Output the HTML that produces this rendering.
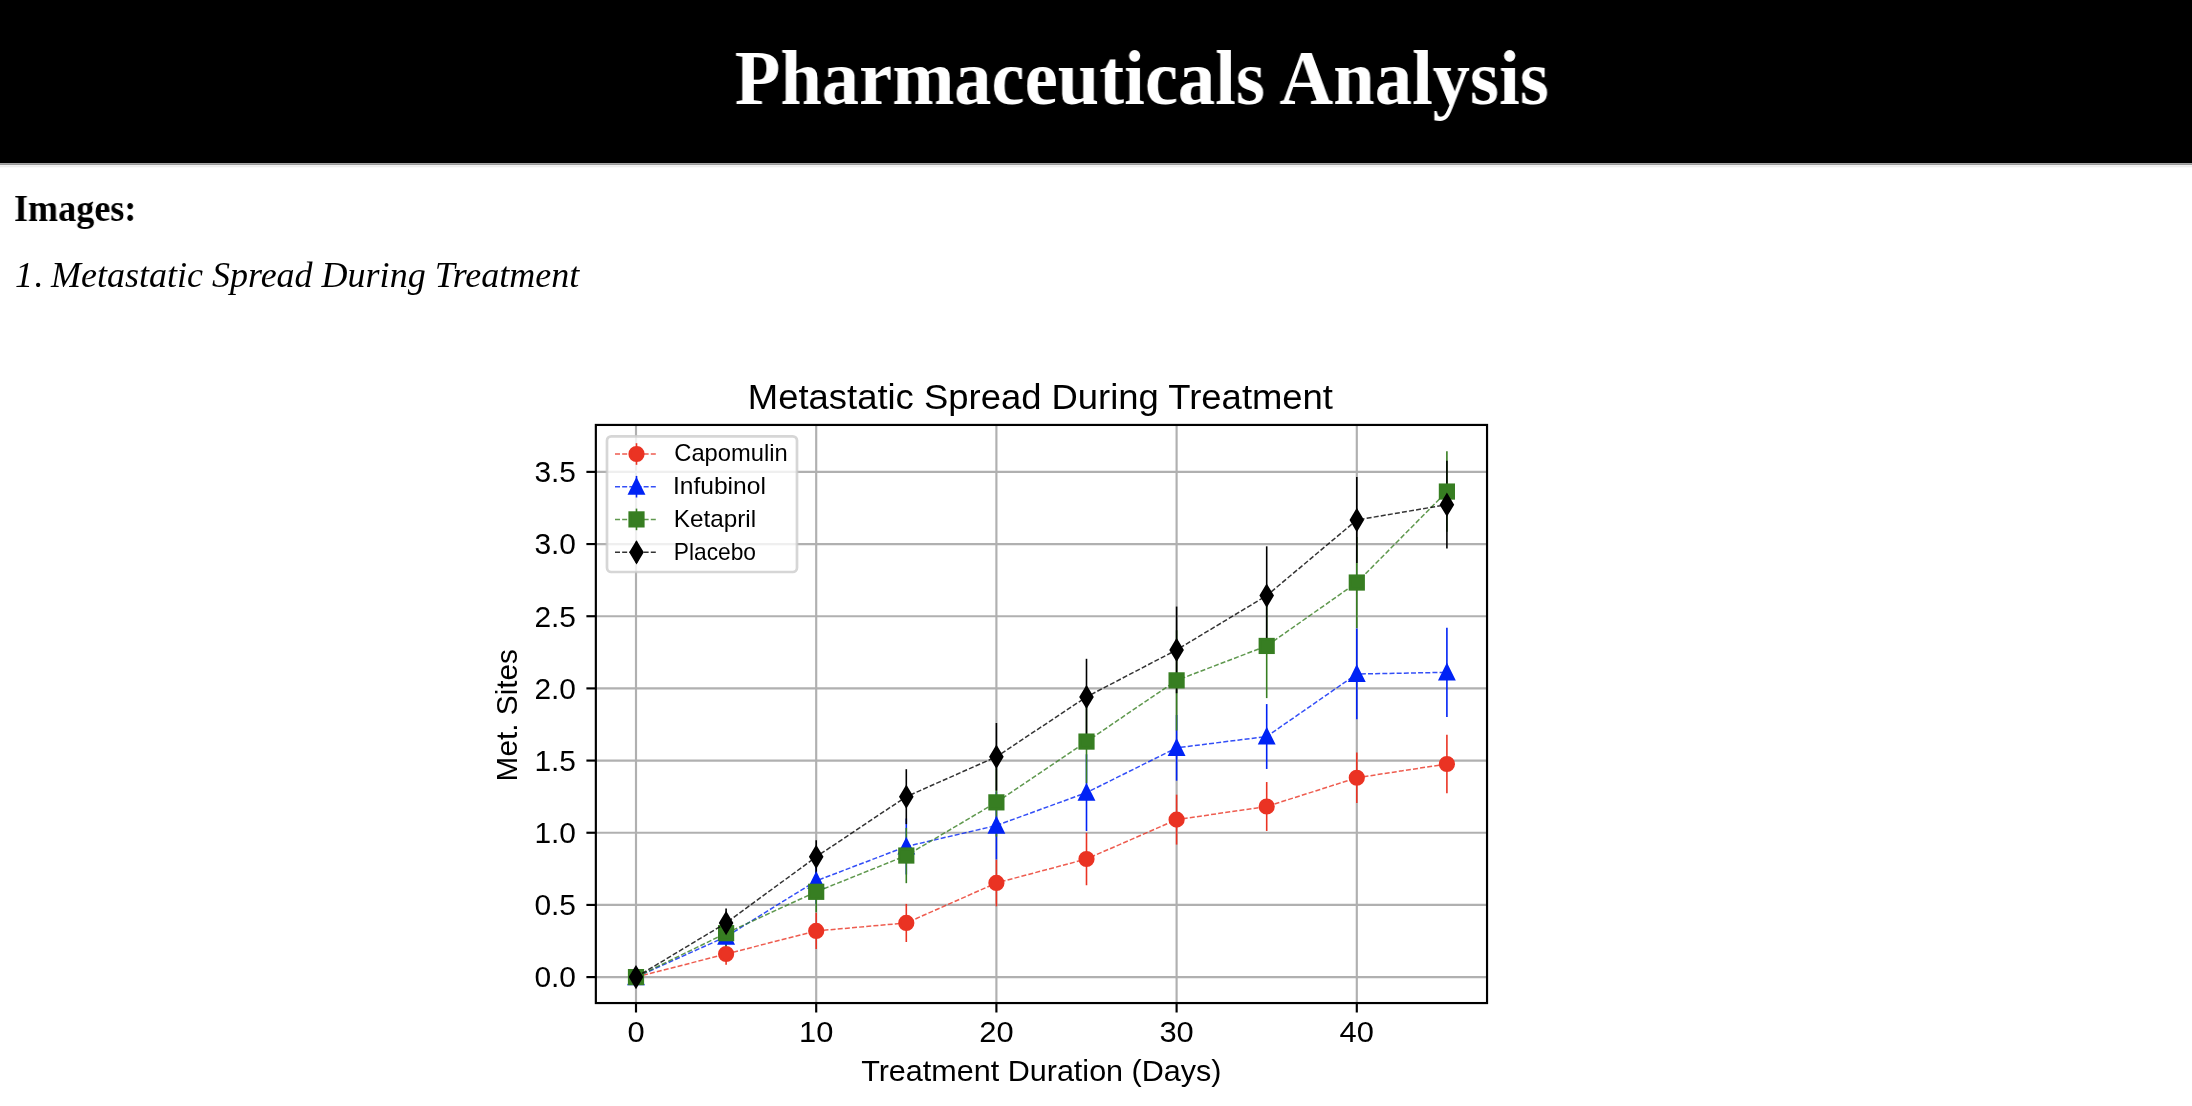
<!DOCTYPE html>
<html lang="en">
<head>
<meta charset="utf-8">
<title>Pharmaceuticals Analysis</title>
<style>
html, body { margin: 0; padding: 0; background: #fff; }
body { width: 2192px; height: 1106px; position: relative; overflow: hidden;
  font-family: "Liberation Serif", serif; color: #000; }
#header { position: absolute; left: 0; top: 0; width: 2192px; height: 168px;
  background: linear-gradient(to bottom, #000 0, #000 163px, #a6a6a6 163px, #a6a6a6 164px,
    #999 164px, #999 165px, #f2f2f2 165px, #f2f2f2 166px, #ededed 166px, #ededed 167px, #fafafa 167px, #fafafa 168px); }
#header h1 { position: absolute; left: 0; top: 0; width: 2192px; margin: 0; text-align: center;
  font-family: "Liberation Serif", serif; font-weight: bold; font-size: 78px; line-height: 1;
  color: #fff; white-space: nowrap; }
#header h1 span { display: inline-block; transform: scaleX(0.956); transform-origin: 50% 50%; position: relative; top: 39.4px; left: 45.5px; }
h3 { position: absolute; left: 13.8px; top: 190.2px; margin: 0; font-family: "Liberation Serif", serif;
  font-weight: bold; font-size: 37.44px; line-height: 1; white-space: nowrap;
  transform: scaleX(0.965); transform-origin: 0 0; }
#cap { position: absolute; left: 14.7px; top: 257px; margin: 0; font-family: "Liberation Serif", serif;
  font-style: italic; font-size: 36px; line-height: 1; white-space: nowrap;
  transform: scaleX(1.0); transform-origin: 0 0; }
#cap .dot { position: relative; left: 1.6px; }
#chart { position: absolute; left: 0; top: 0; will-change: transform; }
#header h1 span, h3, #cap { will-change: transform; }
</style>
</head>
<body>
<div id="header"><h1><span>Pharmaceuticals Analysis</span></h1></div>
<h3>Images:</h3>
<p id="cap"><i>1<span class="dot">.</span> Metastatic Spread During Treatment</i></p>
<svg id="chart" width="2192" height="1106" viewBox="0 0 2192 1106">
<defs><clipPath id="axclip"><rect x="595.85" y="424.94" width="891.19" height="578.11"/></clipPath></defs>
<g stroke="#b0b0b0" stroke-width="2.16" fill="none">
<line x1="636" y1="424.94" x2="636" y2="1003.05"/>
<line x1="816.2" y1="424.94" x2="816.2" y2="1003.05"/>
<line x1="996.4" y1="424.94" x2="996.4" y2="1003.05"/>
<line x1="1176.6" y1="424.94" x2="1176.6" y2="1003.05"/>
<line x1="1356.8" y1="424.94" x2="1356.8" y2="1003.05"/>
<line x1="595.85" y1="977.1" x2="1487.04" y2="977.1"/>
<line x1="595.85" y1="904.93" x2="1487.04" y2="904.93"/>
<line x1="595.85" y1="832.75" x2="1487.04" y2="832.75"/>
<line x1="595.85" y1="760.58" x2="1487.04" y2="760.58"/>
<line x1="595.85" y1="688.4" x2="1487.04" y2="688.4"/>
<line x1="595.85" y1="616.23" x2="1487.04" y2="616.23"/>
<line x1="595.85" y1="544.05" x2="1487.04" y2="544.05"/>
<line x1="595.85" y1="471.88" x2="1487.04" y2="471.88"/>
</g>
<g clip-path="url(#axclip)">
<g stroke="#ea3323" stroke-width="1.6" fill="none">
<line x1="726.1" y1="964.81" x2="726.1" y2="943.2"/>
<line x1="816.2" y1="949.01" x2="816.2" y2="912.8"/>
<line x1="906.3" y1="942.03" x2="906.3" y2="903.91"/>
<line x1="996.4" y1="906.29" x2="996.4" y2="859.63"/>
<line x1="1086.5" y1="885.24" x2="1086.5" y2="832.75"/>
<line x1="1176.6" y1="844.59" x2="1176.6" y2="794.66"/>
<line x1="1266.7" y1="830.97" x2="1266.7" y2="782.04"/>
<line x1="1356.8" y1="803.11" x2="1356.8" y2="752.41"/>
<line x1="1446.9" y1="793.26" x2="1446.9" y2="734.77"/>
</g>
<g stroke="#0023f5" stroke-width="1.6" fill="none">
<line x1="726.1" y1="949.91" x2="726.1" y2="923.45"/>
<line x1="816.2" y1="903.87" x2="816.2" y2="857.86"/>
<line x1="906.3" y1="874.5" x2="906.3" y2="818.49"/>
<line x1="996.4" y1="859.43" x2="996.4" y2="791.64"/>
<line x1="1086.5" y1="831.01" x2="1086.5" y2="754.29"/>
<line x1="1176.6" y1="780.72" x2="1176.6" y2="714.95"/>
<line x1="1266.7" y1="768.96" x2="1266.7" y2="704.08"/>
<line x1="1356.8" y1="719.36" x2="1356.8" y2="628.57"/>
<line x1="1446.9" y1="717.01" x2="1446.9" y2="627.71"/>
</g>
<g stroke="#377e22" stroke-width="1.6" fill="none">
<line x1="726.1" y1="947.33" x2="726.1" y2="919.01"/>
<line x1="816.2" y1="912.3" x2="816.2" y2="871.3"/>
<line x1="906.3" y1="883.17" x2="906.3" y2="827.92"/>
<line x1="996.4" y1="836.53" x2="996.4" y2="768.2"/>
<line x1="1086.5" y1="783.19" x2="1086.5" y2="699.97"/>
<line x1="1176.6" y1="730.54" x2="1176.6" y2="630.22"/>
<line x1="1266.7" y1="698.11" x2="1266.7" y2="593.77"/>
<line x1="1356.8" y1="628.12" x2="1356.8" y2="536.97"/>
<line x1="1446.9" y1="531.79" x2="1446.9" y2="451.33"/>
</g>
<g stroke="#000000" stroke-width="1.6" fill="none">
<line x1="726.1" y1="937.54" x2="726.1" y2="908.4"/>
<line x1="816.2" y1="873.45" x2="816.2" y2="840.17"/>
<line x1="906.3" y1="824.12" x2="906.3" y2="769.2"/>
<line x1="996.4" y1="790.56" x2="996.4" y2="722.99"/>
<line x1="1086.5" y1="734.98" x2="1086.5" y2="658.8"/>
<line x1="1176.6" y1="693.25" x2="1176.6" y2="606.56"/>
<line x1="1266.7" y1="644.89" x2="1266.7" y2="546.32"/>
<line x1="1356.8" y1="562.91" x2="1356.8" y2="477.08"/>
<line x1="1446.9" y1="548.6" x2="1446.9" y2="460.76"/>
</g>
<polyline points="636,977.1 726.1,954 816.2,930.91 906.3,922.97 996.4,882.96 1086.5,859 1176.6,819.63 1266.7,806.5 1356.8,777.76 1446.9,764.01" fill="none" stroke="#ea3323" stroke-width="1.5" stroke-opacity="0.8" stroke-dasharray="5 2.16"/>
<circle cx="636" cy="977.1" r="6.75" fill="#ea3323" stroke="#ea3323" stroke-width="2.7" stroke-linejoin="miter" stroke-miterlimit="10"/>
<circle cx="726.1" cy="954" r="6.75" fill="#ea3323" stroke="#ea3323" stroke-width="2.7" stroke-linejoin="miter" stroke-miterlimit="10"/>
<circle cx="816.2" cy="930.91" r="6.75" fill="#ea3323" stroke="#ea3323" stroke-width="2.7" stroke-linejoin="miter" stroke-miterlimit="10"/>
<circle cx="906.3" cy="922.97" r="6.75" fill="#ea3323" stroke="#ea3323" stroke-width="2.7" stroke-linejoin="miter" stroke-miterlimit="10"/>
<circle cx="996.4" cy="882.96" r="6.75" fill="#ea3323" stroke="#ea3323" stroke-width="2.7" stroke-linejoin="miter" stroke-miterlimit="10"/>
<circle cx="1086.5" cy="859" r="6.75" fill="#ea3323" stroke="#ea3323" stroke-width="2.7" stroke-linejoin="miter" stroke-miterlimit="10"/>
<circle cx="1176.6" cy="819.63" r="6.75" fill="#ea3323" stroke="#ea3323" stroke-width="2.7" stroke-linejoin="miter" stroke-miterlimit="10"/>
<circle cx="1266.7" cy="806.5" r="6.75" fill="#ea3323" stroke="#ea3323" stroke-width="2.7" stroke-linejoin="miter" stroke-miterlimit="10"/>
<circle cx="1356.8" cy="777.76" r="6.75" fill="#ea3323" stroke="#ea3323" stroke-width="2.7" stroke-linejoin="miter" stroke-miterlimit="10"/>
<circle cx="1446.9" cy="764.01" r="6.75" fill="#ea3323" stroke="#ea3323" stroke-width="2.7" stroke-linejoin="miter" stroke-miterlimit="10"/>
<polyline points="636,977.1 726.1,936.68 816.2,880.87 906.3,846.5 996.4,825.53 1086.5,792.65 1176.6,747.84 1266.7,736.52 1356.8,673.97 1446.9,672.36" fill="none" stroke="#0023f5" stroke-width="1.5" stroke-opacity="0.8" stroke-dasharray="5 2.16"/>
<path d="M636 970.35L629.25 983.85L642.75 983.85Z" fill="#0023f5" stroke="#0023f5" stroke-width="2.7" stroke-linejoin="miter" stroke-miterlimit="10"/>
<path d="M726.1 929.93L719.35 943.43L732.85 943.43Z" fill="#0023f5" stroke="#0023f5" stroke-width="2.7" stroke-linejoin="miter" stroke-miterlimit="10"/>
<path d="M816.2 874.12L809.45 887.62L822.95 887.62Z" fill="#0023f5" stroke="#0023f5" stroke-width="2.7" stroke-linejoin="miter" stroke-miterlimit="10"/>
<path d="M906.3 839.75L899.55 853.25L913.05 853.25Z" fill="#0023f5" stroke="#0023f5" stroke-width="2.7" stroke-linejoin="miter" stroke-miterlimit="10"/>
<path d="M996.4 818.78L989.65 832.28L1003.15 832.28Z" fill="#0023f5" stroke="#0023f5" stroke-width="2.7" stroke-linejoin="miter" stroke-miterlimit="10"/>
<path d="M1086.5 785.9L1079.75 799.4L1093.25 799.4Z" fill="#0023f5" stroke="#0023f5" stroke-width="2.7" stroke-linejoin="miter" stroke-miterlimit="10"/>
<path d="M1176.6 741.09L1169.85 754.59L1183.35 754.59Z" fill="#0023f5" stroke="#0023f5" stroke-width="2.7" stroke-linejoin="miter" stroke-miterlimit="10"/>
<path d="M1266.7 729.77L1259.95 743.27L1273.45 743.27Z" fill="#0023f5" stroke="#0023f5" stroke-width="2.7" stroke-linejoin="miter" stroke-miterlimit="10"/>
<path d="M1356.8 667.22L1350.05 680.72L1363.55 680.72Z" fill="#0023f5" stroke="#0023f5" stroke-width="2.7" stroke-linejoin="miter" stroke-miterlimit="10"/>
<path d="M1446.9 665.61L1440.15 679.11L1453.65 679.11Z" fill="#0023f5" stroke="#0023f5" stroke-width="2.7" stroke-linejoin="miter" stroke-miterlimit="10"/>
<polyline points="636,977.1 726.1,933.17 816.2,891.8 906.3,855.54 996.4,802.36 1086.5,741.58 1176.6,680.38 1266.7,645.94 1356.8,582.54 1446.9,491.56" fill="none" stroke="#377e22" stroke-width="1.5" stroke-opacity="0.8" stroke-dasharray="5 2.16"/>
<rect x="629.25" y="970.35" width="13.5" height="13.5" fill="#377e22" stroke="#377e22" stroke-width="2.7" stroke-linejoin="miter" stroke-miterlimit="10"/>
<rect x="719.35" y="926.42" width="13.5" height="13.5" fill="#377e22" stroke="#377e22" stroke-width="2.7" stroke-linejoin="miter" stroke-miterlimit="10"/>
<rect x="809.45" y="885.05" width="13.5" height="13.5" fill="#377e22" stroke="#377e22" stroke-width="2.7" stroke-linejoin="miter" stroke-miterlimit="10"/>
<rect x="899.55" y="848.79" width="13.5" height="13.5" fill="#377e22" stroke="#377e22" stroke-width="2.7" stroke-linejoin="miter" stroke-miterlimit="10"/>
<rect x="989.65" y="795.61" width="13.5" height="13.5" fill="#377e22" stroke="#377e22" stroke-width="2.7" stroke-linejoin="miter" stroke-miterlimit="10"/>
<rect x="1079.75" y="734.83" width="13.5" height="13.5" fill="#377e22" stroke="#377e22" stroke-width="2.7" stroke-linejoin="miter" stroke-miterlimit="10"/>
<rect x="1169.85" y="673.63" width="13.5" height="13.5" fill="#377e22" stroke="#377e22" stroke-width="2.7" stroke-linejoin="miter" stroke-miterlimit="10"/>
<rect x="1259.95" y="639.19" width="13.5" height="13.5" fill="#377e22" stroke="#377e22" stroke-width="2.7" stroke-linejoin="miter" stroke-miterlimit="10"/>
<rect x="1350.05" y="575.79" width="13.5" height="13.5" fill="#377e22" stroke="#377e22" stroke-width="2.7" stroke-linejoin="miter" stroke-miterlimit="10"/>
<rect x="1440.15" y="484.81" width="13.5" height="13.5" fill="#377e22" stroke="#377e22" stroke-width="2.7" stroke-linejoin="miter" stroke-miterlimit="10"/>
<polyline points="636,977.1 726.1,922.97 816.2,856.81 906.3,796.66 996.4,756.78 1086.5,696.89 1176.6,649.91 1266.7,595.6 1356.8,519.99 1446.9,504.68" fill="none" stroke="#000000" stroke-width="1.5" stroke-opacity="0.8" stroke-dasharray="5 2.16"/>
<path d="M636 967.55L630.27 977.1L636 986.65L641.73 977.1Z" fill="#000000" stroke="#000000" stroke-width="2.7" stroke-linejoin="miter" stroke-miterlimit="10"/>
<path d="M726.1 913.42L720.37 922.97L726.1 932.51L731.83 922.97Z" fill="#000000" stroke="#000000" stroke-width="2.7" stroke-linejoin="miter" stroke-miterlimit="10"/>
<path d="M816.2 847.26L810.47 856.81L816.2 866.35L821.93 856.81Z" fill="#000000" stroke="#000000" stroke-width="2.7" stroke-linejoin="miter" stroke-miterlimit="10"/>
<path d="M906.3 787.12L900.57 796.66L906.3 806.21L912.03 796.66Z" fill="#000000" stroke="#000000" stroke-width="2.7" stroke-linejoin="miter" stroke-miterlimit="10"/>
<path d="M996.4 747.23L990.67 756.78L996.4 766.32L1002.13 756.78Z" fill="#000000" stroke="#000000" stroke-width="2.7" stroke-linejoin="miter" stroke-miterlimit="10"/>
<path d="M1086.5 687.35L1080.77 696.89L1086.5 706.44L1092.23 696.89Z" fill="#000000" stroke="#000000" stroke-width="2.7" stroke-linejoin="miter" stroke-miterlimit="10"/>
<path d="M1176.6 640.36L1170.87 649.91L1176.6 659.45L1182.33 649.91Z" fill="#000000" stroke="#000000" stroke-width="2.7" stroke-linejoin="miter" stroke-miterlimit="10"/>
<path d="M1266.7 586.06L1260.97 595.6L1266.7 605.15L1272.43 595.6Z" fill="#000000" stroke="#000000" stroke-width="2.7" stroke-linejoin="miter" stroke-miterlimit="10"/>
<path d="M1356.8 510.45L1351.07 519.99L1356.8 529.54L1362.53 519.99Z" fill="#000000" stroke="#000000" stroke-width="2.7" stroke-linejoin="miter" stroke-miterlimit="10"/>
<path d="M1446.9 495.14L1441.17 504.68L1446.9 514.23L1452.63 504.68Z" fill="#000000" stroke="#000000" stroke-width="2.7" stroke-linejoin="miter" stroke-miterlimit="10"/>
</g>
<rect x="595.85" y="424.94" width="891.19" height="578.11" fill="none" stroke="#000" stroke-width="2.16"/>
<g stroke="#000" stroke-width="2.16">
<line x1="636" y1="1003.05" x2="636" y2="1012.5"/>
<line x1="816.2" y1="1003.05" x2="816.2" y2="1012.5"/>
<line x1="996.4" y1="1003.05" x2="996.4" y2="1012.5"/>
<line x1="1176.6" y1="1003.05" x2="1176.6" y2="1012.5"/>
<line x1="1356.8" y1="1003.05" x2="1356.8" y2="1012.5"/>
<line x1="586.4" y1="977.1" x2="595.85" y2="977.1"/>
<line x1="586.4" y1="904.93" x2="595.85" y2="904.93"/>
<line x1="586.4" y1="832.75" x2="595.85" y2="832.75"/>
<line x1="586.4" y1="760.58" x2="595.85" y2="760.58"/>
<line x1="586.4" y1="688.4" x2="595.85" y2="688.4"/>
<line x1="586.4" y1="616.23" x2="595.85" y2="616.23"/>
<line x1="586.4" y1="544.05" x2="595.85" y2="544.05"/>
<line x1="586.4" y1="471.88" x2="595.85" y2="471.88"/>
</g>
<g font-family="'Liberation Sans', sans-serif" fill="#000">
<text x="576" y="987.4" font-size="29" text-anchor="end" textLength="41.6" lengthAdjust="spacingAndGlyphs">0.0</text>
<text x="576" y="915.23" font-size="29" text-anchor="end" textLength="41.6" lengthAdjust="spacingAndGlyphs">0.5</text>
<text x="576" y="843.05" font-size="29" text-anchor="end" textLength="41.6" lengthAdjust="spacingAndGlyphs">1.0</text>
<text x="576" y="770.88" font-size="29" text-anchor="end" textLength="41.6" lengthAdjust="spacingAndGlyphs">1.5</text>
<text x="576" y="698.7" font-size="29" text-anchor="end" textLength="41.6" lengthAdjust="spacingAndGlyphs">2.0</text>
<text x="576" y="626.52" font-size="29" text-anchor="end" textLength="41.6" lengthAdjust="spacingAndGlyphs">2.5</text>
<text x="576" y="554.35" font-size="29" text-anchor="end" textLength="41.6" lengthAdjust="spacingAndGlyphs">3.0</text>
<text x="576" y="482.18" font-size="29" text-anchor="end" textLength="41.6" lengthAdjust="spacingAndGlyphs">3.5</text>
<text x="627.41" y="1042.4" font-size="29" text-anchor="start" textLength="17.18" lengthAdjust="spacingAndGlyphs">0</text>
<text x="799.02" y="1042.4" font-size="29" text-anchor="start" textLength="34.36" lengthAdjust="spacingAndGlyphs">10</text>
<text x="979.22" y="1042.4" font-size="29" text-anchor="start" textLength="34.36" lengthAdjust="spacingAndGlyphs">20</text>
<text x="1159.42" y="1042.4" font-size="29" text-anchor="start" textLength="34.36" lengthAdjust="spacingAndGlyphs">30</text>
<text x="1339.62" y="1042.4" font-size="29" text-anchor="start" textLength="34.36" lengthAdjust="spacingAndGlyphs">40</text>
<text x="861.2" y="1081" font-size="29" text-anchor="start" textLength="360.3" lengthAdjust="spacingAndGlyphs">Treatment Duration (Days)</text>
<text x="0" y="0" font-size="29" text-anchor="start" textLength="132.4" lengthAdjust="spacingAndGlyphs" transform="translate(517.3 781.4) rotate(-90)">Met. Sites</text>
<text x="747.8" y="408.6" font-size="34.2" text-anchor="start" textLength="585.2" lengthAdjust="spacingAndGlyphs">Metastatic Spread During Treatment</text>
</g>
<rect x="607" y="436.3" width="190" height="135.7" rx="4.3" ry="4.3" fill="#fff" fill-opacity="0.8" stroke="#ccc" stroke-opacity="0.8" stroke-width="2.7"/>
<g font-family="'Liberation Sans', sans-serif" fill="#000">
<line x1="636.5" y1="443.2" x2="636.5" y2="464.8" stroke="#ea3323" stroke-width="1.6"/>
<line x1="615" y1="454" x2="657.5" y2="454" stroke="#ea3323" stroke-width="1.5" stroke-opacity="0.8" stroke-dasharray="5 2.16"/>
<circle cx="636.5" cy="454" r="6.75" fill="#ea3323" stroke="#ea3323" stroke-width="2.7" stroke-linejoin="miter" stroke-miterlimit="10"/>
<text x="674.3" y="461.2" font-size="23.8" text-anchor="start" textLength="113.4" lengthAdjust="spacingAndGlyphs">Capomulin</text>
<line x1="636.5" y1="475.9" x2="636.5" y2="497.5" stroke="#0023f5" stroke-width="1.6"/>
<line x1="615" y1="486.7" x2="657.5" y2="486.7" stroke="#0023f5" stroke-width="1.5" stroke-opacity="0.8" stroke-dasharray="5 2.16"/>
<path d="M636.5 479.95L629.75 493.45L643.25 493.45Z" fill="#0023f5" stroke="#0023f5" stroke-width="2.7" stroke-linejoin="miter" stroke-miterlimit="10"/>
<text x="672.9" y="493.9" font-size="23.8" text-anchor="start" textLength="93" lengthAdjust="spacingAndGlyphs">Infubinol</text>
<line x1="636.5" y1="508.6" x2="636.5" y2="530.2" stroke="#377e22" stroke-width="1.6"/>
<line x1="615" y1="519.4" x2="657.5" y2="519.4" stroke="#377e22" stroke-width="1.5" stroke-opacity="0.8" stroke-dasharray="5 2.16"/>
<rect x="629.75" y="512.65" width="13.5" height="13.5" fill="#377e22" stroke="#377e22" stroke-width="2.7" stroke-linejoin="miter" stroke-miterlimit="10"/>
<text x="673.8" y="526.6" font-size="23.8" text-anchor="start" textLength="82.3" lengthAdjust="spacingAndGlyphs">Ketapril</text>
<line x1="636.5" y1="541.5" x2="636.5" y2="563.1" stroke="#000000" stroke-width="1.6"/>
<line x1="615" y1="552.3" x2="657.5" y2="552.3" stroke="#000000" stroke-width="1.5" stroke-opacity="0.8" stroke-dasharray="5 2.16"/>
<path d="M636.5 542.75L630.77 552.3L636.5 561.85L642.23 552.3Z" fill="#000000" stroke="#000000" stroke-width="2.7" stroke-linejoin="miter" stroke-miterlimit="10"/>
<text x="673.8" y="559.5" font-size="23.8" text-anchor="start" textLength="82.2" lengthAdjust="spacingAndGlyphs">Placebo</text>
</g>
</svg>
</body>
</html>
